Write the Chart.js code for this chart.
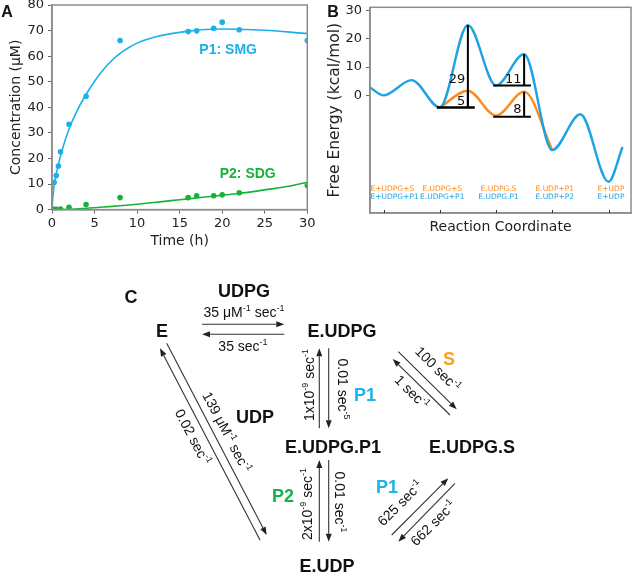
<!DOCTYPE html>
<html>
<head>
<meta charset="utf-8">
<script src="https://cdn.jsdelivr.net/npm/chart.js@4"></script>
<style>
  html, body { margin: 0; padding: 0; background: #fff; }
  #wrap { position: relative; width: 636px; height: 574px; overflow: hidden; }
  #chartA { position: absolute; left: 0; top: 0; }
  #chartB { position: absolute; left: 318px; top: 0; }
  #panelC { position: absolute; left: 0; top: 0; pointer-events: none; }
  #panelC text { font-family: "Liberation Sans", Arial, sans-serif; fill: #111; }
  #panelC .big { font-size: 18px; font-weight: bold; }
  #panelC .rate { font-size: 14px; }
</style>
</head>
<body>
<div id="wrap">
  <canvas id="chartA" width="318" height="260"></canvas>
  <canvas id="chartB" width="318" height="260"></canvas>
  <svg id="panelC" width="636" height="574" xmlns="http://www.w3.org/2000/svg">
    <text x="7" y="17" style="font-size:16px;font-weight:bold" text-anchor="middle">A</text>
    <text x="333" y="17" style="font-size:16px;font-weight:bold" text-anchor="middle">B</text>
    <text x="131" y="303" style="font-size:18px;font-weight:bold" text-anchor="middle">C</text>

    <text class="big" x="244" y="297" text-anchor="middle">UDPG</text>
    <text class="big" x="162" y="337" text-anchor="middle">E</text>
    <text class="big" x="342" y="337" text-anchor="middle">E.UDPG</text>
    <text class="big" x="255" y="423" text-anchor="middle">UDP</text>
    <text class="big" x="333" y="453" text-anchor="middle">E.UDPG.P1</text>
    <text class="big" x="472" y="453" text-anchor="middle">E.UDPG.S</text>
    <text class="big" x="327" y="572" text-anchor="middle">E.UDP</text>
    <text class="big" x="365" y="401" text-anchor="middle" style="fill:#1db2ee">P1</text>
    <text class="big" x="387" y="493" text-anchor="middle" style="fill:#1db2ee">P1</text>
    <text class="big" x="283" y="502" text-anchor="middle" style="fill:#18b04a">P2</text>
    <text class="big" x="449" y="365" text-anchor="middle" style="fill:#f7a21b">S</text>

    <text class="rate" x="244" y="317" text-anchor="middle">35 μM<tspan dy="-6" font-size="9">-1</tspan><tspan dy="6"> sec</tspan><tspan dy="-6" font-size="9">-1</tspan></text>
    <text class="rate" x="243" y="351" text-anchor="middle">35 sec<tspan dy="-6" font-size="9">-1</tspan></text>

    <g transform="translate(309,385) rotate(-90)"><text class="rate" x="0" y="5" text-anchor="middle">1x10<tspan dy="-6" font-size="9">-9</tspan><tspan dy="6"> sec</tspan><tspan dy="-6" font-size="9">-1</tspan></text></g>
    <g transform="translate(343,389) rotate(90)"><text class="rate" x="0" y="5" text-anchor="middle">0.01 sec<tspan dy="-6" font-size="9">-5</tspan></text></g>
    <g transform="translate(307,504) rotate(-90)"><text class="rate" x="0" y="5" text-anchor="middle">2x10<tspan dy="-6" font-size="9">-9</tspan><tspan dy="6"> sec</tspan><tspan dy="-6" font-size="9">-1</tspan></text></g>
    <g transform="translate(340,502) rotate(90)"><text class="rate" x="0" y="5" text-anchor="middle">0.01 sec<tspan dy="-6" font-size="9">-1</tspan></text></g>

    <g transform="translate(227,432) rotate(62.4)"><text class="rate" x="0" y="5" text-anchor="middle">139 μM<tspan dy="-6" font-size="9">-1</tspan><tspan dy="6"> sec</tspan><tspan dy="-6" font-size="9">-1</tspan></text></g>
    <g transform="translate(193,437) rotate(62.4)"><text class="rate" x="0" y="5" text-anchor="middle">0.02 sec<tspan dy="-6" font-size="9">-1</tspan></text></g>

    <g transform="translate(438,369) rotate(45)"><text class="rate" x="0" y="5" text-anchor="middle">100 sec<tspan dy="-6" font-size="9">-1</tspan></text></g>
    <g transform="translate(412,392) rotate(45)"><text class="rate" x="0" y="5" text-anchor="middle">1 sec<tspan dy="-6" font-size="9">-1</tspan></text></g>

    <g transform="translate(400,503) rotate(-45)"><text class="rate" x="0" y="5" text-anchor="middle">625 sec<tspan dy="-6" font-size="9">-1</tspan></text></g>
    <g transform="translate(433,523) rotate(-45)"><text class="rate" x="0" y="5" text-anchor="middle">662 sec<tspan dy="-6" font-size="9">-1</tspan></text></g>

    <g id="arrows"></g>
  </svg>
</div>
<script>
// ---- Panel A data (time in h, concentration in uM)
const timeP1 = [0.25, 0.5, 0.75, 1, 2, 4, 8, 16, 17, 19, 20, 22, 30];
const concP1 = [10.6, 13.3, 17, 22.6, 33.4, 44.3, 66.1, 69.6, 69.9, 70.9, 73.3, 70.3, 66.1];
const timeP2 = [0.25, 0.5, 1, 2, 4, 8, 16, 17, 19, 20, 22, 30];
const concP2 = [0.1, 0.1, 0.2, 0.9, 2.0, 4.7, 4.7, 5.4, 5.4, 5.8, 6.6, 9.4];

const fitTimeP1 = [0, 0.1, 0.25, 0.5, 1, 2, 3, 4, 5, 6, 7, 8, 9, 10, 11, 12, 14, 16, 18, 20, 22, 25, 28, 30];
const fitP1 = [0, 5, 9.5, 14, 21, 31.5, 39, 45, 50.2, 54.6, 58.2, 61.1, 63.3, 65.1, 66.4, 67.4, 68.8, 69.8, 70.4, 70.6, 70.5, 70.1, 69.4, 68.8];
const fitTimeP2 = [0, 2, 4, 6, 8, 10, 12, 14, 16, 18, 20, 22, 25, 28, 30];
const fitP2 = [0, 0.1, 0.5, 1.0, 1.5, 2.1, 2.8, 3.5, 4.2, 4.9, 5.6, 6.3, 7.7, 9.2, 10.7];

// ---- Panel B data (reaction coordinate, free energy kcal/mol)
const coordBlue = [0.76, 1, 1.5, 2, 2.5, 3, 3.5, 4, 4.5, 5, 5.25];
const energyBlue = [2.8, 0, 5.4, -4.3, 24.9, 3.5, 14.6, -19.4, -6.7, -30.6, -18.3];
const coordOrange = [2, 2.5, 3, 3.5, 4];
const energyOrange = [-4.3, 1.6, -7.2, 1.3, -19.4];

const barrierPos = [2.5, 2.5, 3.5, 3.5];
const barrierTop = [24.9, 1.6, 14.6, 1.3];
const barrierBase = [-4.3, -4.3, 3.5, -7.6];
const barrierText = ['29', '5', '11', '8'];

const statePos = [1, 2, 3, 4, 5];
const stateOrange = ['E+UDPG+S', 'E.UDPG+S', 'E.UDPG.S', 'E.UDP+P1', 'E+UDP'];
const stateBlue = ['E+UDPG+P1', 'E.UDPG+P1', 'E.UDPG.P1', 'E.UDP+P2', 'E+UDP'];

const blueA = '#1bb0ea';
const greenA = '#13b33a';
const blueB = '#1ba3e6';
const orangeB = '#ff8a1e';
const frameColor = '#8c8c8c';
const tickFont = { family: 'DejaVu Sans', size: 13 };
const titleFont = { family: 'DejaVu Sans', size: 14 };

const pts = (xs, ys) => xs.map((x, i) => ({ x: x, y: ys[i] }));

const framePlugin = {
  id: 'frame',
  afterDraw(chart) {
    const { ctx, chartArea: a } = chart;
    ctx.save();
    ctx.strokeStyle = frameColor;
    ctx.lineWidth = 1.5;
    ctx.strokeRect(a.left, a.top, a.right - a.left, a.bottom - a.top);
    ctx.restore();
  }
};

// ---- Chart A
const labelsA = [
  { text: 'P1: SMG', x: 20.7, y: 62.4, color: blueA },
  { text: 'P2: SDG', x: 23, y: 13.9, color: greenA }
];

new Chart(document.getElementById('chartA'), {
  type: 'line',
  data: {
    datasets: [
      { type: 'scatter', data: pts(timeP1, concP1), backgroundColor: blueA, borderWidth: 0, pointRadius: 2.8, order: 0 },
      { type: 'scatter', data: pts(timeP2, concP2), backgroundColor: greenA, borderWidth: 0, pointRadius: 2.8, order: 0 },
      { data: pts(fitTimeP1, fitP1), borderColor: blueA, borderWidth: 1.6, pointRadius: 0, cubicInterpolationMode: 'monotone', order: 1 },
      { data: pts(fitTimeP2, fitP2), borderColor: greenA, borderWidth: 1.6, pointRadius: 0, cubicInterpolationMode: 'monotone', order: 1 }
    ]
  },
  options: {
    responsive: false,
    animation: false,
    layout: { padding: { top: 5, right: 10.7, left: 0, bottom: 0 } },
    plugins: { legend: { display: false }, tooltip: { enabled: false } },
    scales: {
      x: {
        type: 'linear', min: 0, max: 30,
        ticks: { stepSize: 5, font: tickFont, color: '#222', padding: 2, maxRotation: 0 },
        grid: { drawOnChartArea: false, tickLength: 4, color: '#666' },
        border: { color: frameColor, width: 1.5 },
        title: { display: true, text: 'Time (h)', font: titleFont, color: '#222', padding: { bottom: 10 } },
        afterFit(s) { s.height = 50.4; s.paddingLeft = 0; s.paddingRight = 0; }
      },
      y: {
        min: 0, max: 80,
        ticks: { stepSize: 10, font: tickFont, color: '#222', padding: 4 },
        grid: { drawOnChartArea: false, tickLength: 4, color: '#666' },
        border: { color: frameColor, width: 1.5 },
        title: { display: true, text: 'Concentration (μM)', font: titleFont, color: '#222', padding: { top: 8 } },
        afterFit(s) { s.width = 52; s.paddingTop = 0; s.paddingBottom = 0; }
      }
    }
  },
  plugins: [framePlugin, {
    id: 'labelsA',
    afterDraw(chart) {
      const { ctx, scales: { x, y } } = chart;
      ctx.save();
      ctx.font = 'bold 14px "Liberation Sans", Arial, sans-serif';
      ctx.textAlign = 'center';
      ctx.textBaseline = 'middle';
      labelsA.forEach(l => {
        ctx.fillStyle = l.color;
        ctx.fillText(l.text, x.getPixelForValue(l.x), y.getPixelForValue(l.y));
      });
      ctx.restore();
    }
  }]
});

// ---- Chart B
const barrierSets = [];
barrierPos.forEach((p, i) => {
  barrierSets.push({ data: [{ x: p - 0.55, y: barrierBase[i] }, { x: p + 0.12, y: barrierBase[i] }], borderColor: '#000', borderWidth: 2, pointRadius: 0, order: 0 });
  barrierSets.push({ data: [{ x: p, y: barrierTop[i] }, { x: p, y: barrierBase[i] }], borderColor: '#000', borderWidth: 2, pointRadius: 0, order: 0 });
});
const barrierLabelY = [5.4, -2.3, 5.4, -5.2];

new Chart(document.getElementById('chartB'), {
  type: 'line',
  data: {
    datasets: [
      ...barrierSets,
      { data: pts(coordBlue, energyBlue), borderColor: blueB, borderWidth: 2.4, pointRadius: 0, cubicInterpolationMode: 'monotone', order: 1 },
      { data: pts(coordOrange, energyOrange), borderColor: orangeB, borderWidth: 2.4, pointRadius: 0, cubicInterpolationMode: 'monotone', order: 2 }
    ]
  },
  options: {
    responsive: false,
    animation: false,
    layout: { padding: { top: 7.3, right: 5, left: 0, bottom: 0 } },
    plugins: { legend: { display: false }, tooltip: { enabled: false } },
    scales: {
      x: {
        type: 'linear', min: 0.76, max: 5.4,
        ticks: { display: false },
        grid: { display: false },
        border: { color: frameColor, width: 1.5 },
        title: { display: true, text: 'Reaction Coordinate', font: titleFont, color: '#222', padding: { bottom: 24 } },
        afterFit(s) { s.height = 47; s.paddingLeft = 0; s.paddingRight = 0; }
      },
      y: {
        min: -41.7, max: 31.2,
        afterBuildTicks(s) { s.ticks = [0, 10, 20, 30].map(v => ({ value: v })); },
        ticks: { font: tickFont, color: '#222', padding: 4 },
        grid: { drawOnChartArea: false, tickLength: 4, color: '#666' },
        border: { color: frameColor, width: 1.5 },
        title: { display: true, text: 'Free Energy (kcal/mol)', font: { family: 'DejaVu Sans', size: 15.5 }, color: '#222', padding: { top: 7.5 } },
        afterFit(s) { s.width = 52; s.paddingTop = 0; s.paddingBottom = 0; }
      }
    }
  },
  plugins: [framePlugin, {
    id: 'labelsB',
    afterDraw(chart) {
      const { ctx, chartArea: a, scales: { x, y } } = chart;
      ctx.save();
      // inward ticks on the reaction coordinate
      ctx.strokeStyle = '#333';
      ctx.lineWidth = 1;
      statePos.forEach(p => {
        const px = Math.round(x.getPixelForValue(p)) + 0.5;
        ctx.beginPath(); ctx.moveTo(px, a.bottom); ctx.lineTo(px, a.bottom - 3); ctx.stroke();
      });
      // state names
      ctx.font = '7.5px "DejaVu Sans"';
      ctx.textBaseline = 'middle';
      ctx.textAlign = 'left';
      const rows = [[stateOrange, orangeB, a.bottom - 24], [stateBlue, blueB, a.bottom - 16.3]];
      rows.forEach(([names, color, py]) => {
        ctx.fillStyle = color;
        names.forEach((n, i) => {
          const w = ctx.measureText(n).width;
          let left = x.getPixelForValue(statePos[i]) + 2.5 - w / 2;
          if (left < a.left + 0.5) left = a.left + 0.5;
          ctx.fillText(n, left, py);
        });
      });
      // barrier values
      ctx.font = '13px "DejaVu Sans"';
      ctx.fillStyle = '#111';
      ctx.textAlign = 'right';
      barrierText.forEach((t, i) => {
        ctx.fillText(t, x.getPixelForValue(barrierPos[i]) - 2.5, y.getPixelForValue(barrierLabelY[i]));
      });
      ctx.restore();
    }
  }]
});

// ---- Panel C arrows
const svgNS = 'http://www.w3.org/2000/svg';
function arrow(x1, y1, x2, y2) {
  const g = document.getElementById('arrows');
  const dx = x2 - x1, dy = y2 - y1, len = Math.hypot(dx, dy);
  const ux = dx / len, uy = dy / len;
  const hl = 8, hw = 3;
  const bx = x2 - ux * hl, by = y2 - uy * hl;
  const ln = document.createElementNS(svgNS, 'line');
  ln.setAttribute('x1', x1); ln.setAttribute('y1', y1);
  ln.setAttribute('x2', bx); ln.setAttribute('y2', by);
  ln.setAttribute('stroke', '#333'); ln.setAttribute('stroke-width', '1.1');
  g.appendChild(ln);
  const head = document.createElementNS(svgNS, 'polygon');
  head.setAttribute('points', [x2, y2, bx - uy * hw, by + ux * hw, bx + uy * hw, by - ux * hw].join(' '));
  head.setAttribute('fill', '#222');
  g.appendChild(head);
}
arrow(202, 324.3, 284.3, 324.3);
arrow(284.3, 334.3, 202, 334.3);
arrow(319.3, 428.3, 319.3, 348.3);
arrow(328.7, 348.3, 328.7, 428.3);
arrow(319.3, 541.7, 319.3, 460);
arrow(328.7, 460, 328.7, 541.7);
arrow(166.7, 343.3, 266.7, 535);
arrow(260, 540, 160, 348.3);
arrow(391.7, 535, 448.3, 478.3);
arrow(455, 483.3, 398.3, 541.7);
arrow(398.3, 351.7, 456.7, 409.3);
arrow(450, 415, 392.7, 359);
</script>
</body>
</html>
